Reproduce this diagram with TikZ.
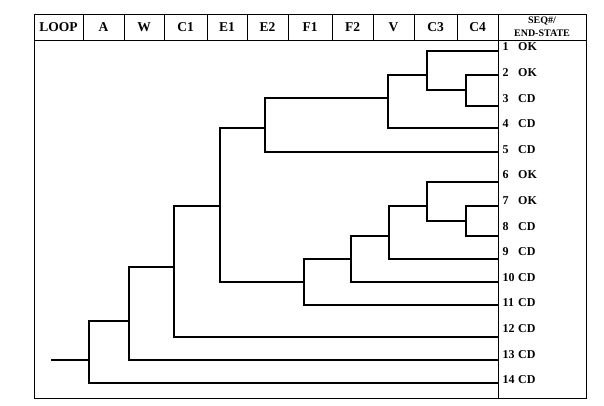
\documentclass[tikz,border=0pt]{standalone}
\usepackage{fontspec}
\setmainfont{Liberation Serif}
\begin{document}
\begin{tikzpicture}[x=1pt,y=-1pt,
  gridline/.style={line width=0.8pt},
  branch/.style={line width=1.8pt, line join=miter},
  hdr/.style={font=\fontsize{13.5}{14}\selectfont\bfseries, inner sep=0pt, anchor=center},
  hdrsmall/.style={font=\fontsize{10}{11}\selectfont\bfseries, inner sep=0pt, anchor=center},
  num/.style={font=\fontsize{12}{13}\selectfont\bfseries, inner sep=0pt, anchor=west},
  state/.style={font=\fontsize{12}{13}\selectfont\bfseries, inner sep=0pt, anchor=west}]
\useasboundingbox (0,0) rectangle (604,405);
% frame and header grid
\draw[gridline] (34,14) rectangle (586,398);
\draw[gridline] (34,40) -- (586,40);
\foreach \x in {83,124,164,207,247,288,332,373,414,457}
  \draw[gridline] (\x,14) -- (\x,40);
\draw[gridline] (498,14) -- (498,398);
% header texts
\node[hdr] (hLOOP) at (58.5,27) {LOOP};
\node[hdr] (hA) at (103.5,27) {A};
\node[hdr] (hW) at (144,27) {W};
\node[hdr] (hC1) at (185.5,27) {C1};
\node[hdr] (hE1) at (227,27) {E1};
\node[hdr] (hE2) at (267.5,27) {E2};
\node[hdr] (hF1) at (310,27) {F1};
\node[hdr] (hF2) at (352.5,27) {F2};
\node[hdr] (hV) at (393.5,27) {V};
\node[hdr] (hC3) at (435.5,27) {C3};
\node[hdr] (hC4) at (477.5,27) {C4};
\node[hdrsmall] (hSEQ) at (542,21) {SEQ\#/};
\node[hdrsmall] (hEND) at (542,33) {END-STATE};
% leaves
\foreach \i/\y in {1/51,2/75,3/106,4/128,5/152,6/182,7/206,8/236,9/259,10/282,11/305,12/337,13/360,14/383}
  \coordinate (L\i) at (498,\y);
% internal nodes
\coordinate (start) at (51,360);
\coordinate (nR) at (89,360);
\coordinate (nA) at (129,321);
\coordinate (nC1) at (174,267);
\coordinate (nE1) at (220,206);
\coordinate (nE2) at (265,128);
\coordinate (nV) at (388,98);
\coordinate (nC3) at (427,75);
\coordinate (nC4) at (466,90);
\coordinate (nF1) at (304,282);
\coordinate (nF2) at (351,259);
\coordinate (nVb) at (389,236);
\coordinate (nC3b) at (427,206);
\coordinate (nC4b) at (466,221);
% branches
\draw[branch] (start) -- (nR);
\draw[branch] (nA) -| (nR) |- (L14);
\draw[branch] (nC1) -| (nA) |- (L13);
\draw[branch] (nE1) -| (nC1) |- (L12);
\draw[branch] (nE2) -| (nE1) |- (nF1);
\draw[branch] (nV) -| (nE2) |- (L5);
\draw[branch] (nC3) -| (nV) |- (L4);
\draw[branch] (L1) -| (nC3) |- (nC4);
\draw[branch] (L2) -| (nC4) |- (L3);
\draw[branch] (nF2) -| (nF1) |- (L11);
\draw[branch] (nVb) -| (nF2) |- (L10);
\draw[branch] (nC3b) -| (nVb) |- (L9);
\draw[branch] (L6) -| (nC3b) |- (nC4b);
\draw[branch] (L7) -| (nC4b) |- (L8);
% labels
\foreach \i/\s in {1/OK,2/OK,3/CD,4/CD,5/CD,6/OK,7/OK,8/CD,9/CD,10/CD,11/CD,12/CD,13/CD,14/CD}{
  \pgfmathsetmacro{\yy}{47+(\i-1)*25.6}
  \node[num] (n\i) at (502.5,\yy) {\i};
  \node[state] (s\i) at (518,\yy) {\s};
}
\end{tikzpicture}
\end{document}
